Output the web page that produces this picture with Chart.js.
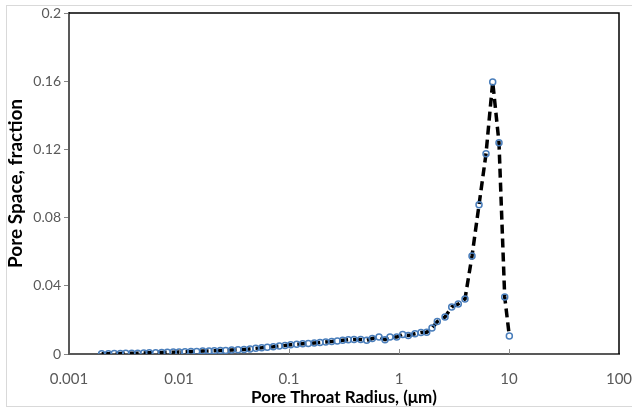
<!DOCTYPE html>
<html><head><meta charset="utf-8">
<script src="https://cdn.jsdelivr.net/npm/chart.js@4"></script>
<style>html,body{margin:0;padding:0;background:#fff;}canvas{display:block}</style>
</head><body>
<canvas id="c" width="632" height="409"></canvas>
<script>
const radiusMicrons = [
  0.00198, 0.00228, 0.00258, 0.00293, 0.00328, 0.00372, 0.00421, 0.00478, 0.00537, 0.00614,
  0.00696, 0.00783, 0.00887, 0.0100, 0.01134, 0.01285, 0.01448, 0.01642, 0.01874, 0.02094,
  0.02375, 0.02658, 0.03014, 0.03439, 0.03899, 0.04421, 0.04982, 0.05647, 0.06349, 0.07199,
  0.08163, 0.09199, 0.1036, 0.1175, 0.1332, 0.1498, 0.1698, 0.1913, 0.2156, 0.2444,
  0.2749, 0.3077, 0.3460, 0.3899, 0.4485, 0.5086, 0.5718, 0.6580, 0.7460, 0.8284,
  0.9530, 1.080, 1.215, 1.398, 1.585, 1.786, 1.995, 2.229, 2.620, 3.014,
  3.460, 3.981, 4.61, 5.34, 6.18, 7.11, 8.11, 9.14, 10.07
];
const poreSpaceFraction = [
  0.0002, 0.0002, 0.0003, 0.0003, 0.0004, 0.0004, 0.0005, 0.0006, 0.0007, 0.0008,
  0.0009, 0.0010, 0.0011, 0.0012, 0.0013, 0.0014, 0.0015, 0.0017, 0.0018, 0.0019,
  0.0020, 0.0021, 0.0023, 0.0025, 0.0027, 0.0030, 0.0033, 0.0036, 0.0040, 0.0043,
  0.0047, 0.0050, 0.0054, 0.0057, 0.0060, 0.0062, 0.0065, 0.0068, 0.0071, 0.0073,
  0.0076, 0.0080, 0.0084, 0.0085, 0.0085, 0.0080, 0.0091, 0.0099, 0.0084, 0.0099,
  0.0099, 0.0115, 0.0109, 0.0119, 0.0126, 0.0128, 0.0152, 0.0190, 0.0217, 0.0276,
  0.0293, 0.0323, 0.0575, 0.0875, 0.1174, 0.1596, 0.1239, 0.0335, 0.0105
];
const xTickValues = [0.001, 0.01, 0.1, 1, 10, 100];
const yTickValues = [0, 0.04, 0.08, 0.12, 0.16, 0.2];
const xTitle = 'Pore Throat Radius, (μm)';
const yTitle = 'Pore Space, fraction';

const points = radiusMicrons.map((r, i) => ({ x: r, y: poreSpaceFraction[i] }));

const decor = {
  id: 'decor',
  beforeDraw(chart) {
    const ctx = chart.ctx;
    ctx.save();
    ctx.fillStyle = '#fff';
    ctx.fillRect(0, 0, chart.width, chart.height);
    ctx.strokeStyle = '#d9d9d9';
    ctx.lineWidth = 1;
    ctx.strokeRect(6.5, 5.5, chart.width + 10, 401);
    ctx.restore();
  },
  afterDraw(chart) {
    const ctx = chart.ctx;
    const a = chart.chartArea;
    const xs = chart.scales.x;
    ctx.save();
    ctx.strokeStyle = '#000';
    ctx.lineWidth = 1.5;
    ctx.beginPath();
    ctx.moveTo(a.left, a.top);
    ctx.lineTo(a.right, a.top);
    ctx.lineTo(a.right, a.bottom);
    ctx.stroke();
    ctx.strokeStyle = '#8c8c8c';
    ctx.lineWidth = 1;
    xTickValues.slice(1, -1).forEach(v => {
      const px = Math.round(xs.getPixelForValue(v)) + 0.5;
      ctx.beginPath();
      ctx.moveTo(px, a.bottom);
      ctx.lineTo(px, a.bottom - 5);
      ctx.stroke();
    });
    ctx.restore();
  }
};

new Chart(document.getElementById('c'), {
  type: 'scatter',
  data: {
    datasets: [{
      data: points,
      showLine: true,
      borderColor: '#000',
      borderWidth: 3.5,
      borderDash: [9, 5],
      tension: 0,
      pointRadius: 3,
      pointStyle: 'circle',
      pointBorderColor: '#4a7ebb',
      pointBorderWidth: 1.5,
      pointBackgroundColor: 'rgba(255,255,255,0)'
    }]
  },
  options: {
    responsive: false,
    animation: false,
    layout: { padding: { left: 0, right: 13, top: 13, bottom: 0 } },
    plugins: { legend: { display: false }, tooltip: { enabled: false } },
    scales: {
      x: {
        type: 'logarithmic',
        min: 0.001, max: 100,
        afterBuildTicks: s => { s.ticks = xTickValues.map(v => ({ value: v })); },
        afterFit: s => { s.height = 55; s.paddingLeft = 0; s.paddingRight = 0; },
        ticks: {
          callback: v => String(v),
          color: '#595959',
          font: { family: 'Lato', size: 15 },
          padding: 16,
          maxRotation: 0, autoSkip: false
        },
        grid: { drawOnChartArea: false, drawTicks: false },
        border: { color: '#595959', width: 2 },
        title: {
          display: true, text: xTitle, color: '#000',
          font: { family: 'Lato', size: 17, weight: 'bold' },
          padding: { top: 0, bottom: 1 }
        }
      },
      y: {
        type: 'linear',
        min: 0, max: 0.2,
        afterBuildTicks: s => { s.ticks = yTickValues.map(v => ({ value: v })); },
        afterFit: s => { s.width = 69; s.paddingTop = 0; s.paddingBottom = 0; },
        ticks: {
          callback: v => String(v),
          color: '#595959',
          font: { family: 'Lato', size: 14 },
          padding: 3
        },
        grid: { drawOnChartArea: false, drawTicks: true, tickLength: 5, color: '#868686' },
        border: { color: '#595959', width: 2 },
        title: {
          display: true, text: yTitle, color: '#000',
          font: { family: 'Lato', size: 19, weight: 'bold' },
          padding: { top: 4, bottom: 0 }
        }
      }
    }
  },
  plugins: [decor]
});
</script>
</body></html>
